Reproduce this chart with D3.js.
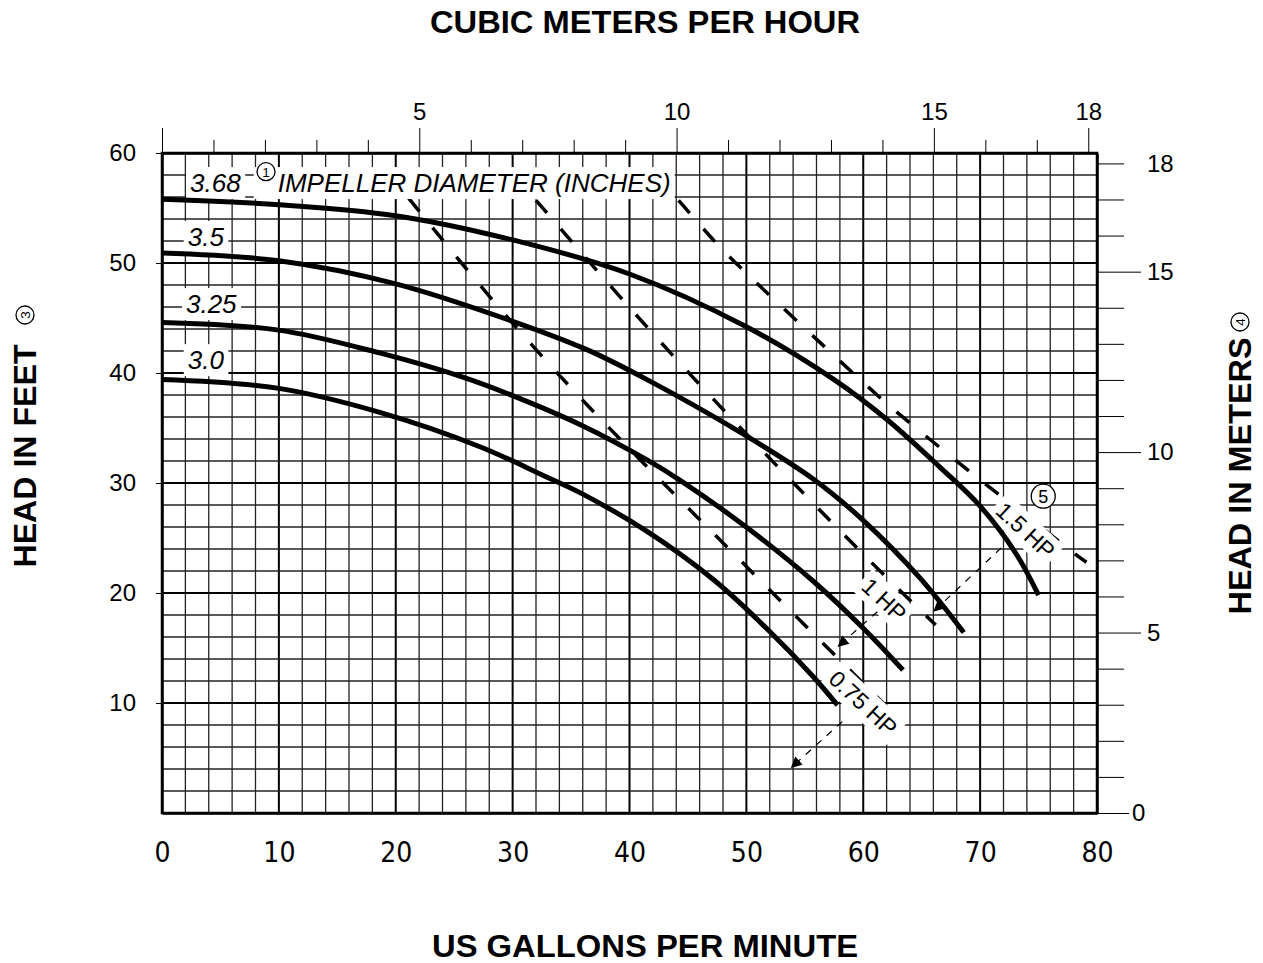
<!DOCTYPE html>
<html>
<head>
<meta charset="utf-8">
<script src="https://cdn.jsdelivr.net/npm/d3@7"></script>
<style>
  body { margin: 0; background: #fff; }
  svg { display: block; font-family: "Liberation Sans", Arial, sans-serif; }
</style>
</head>
<body>
<div id="chart"></div>
<script>

// pump curves: flow in US GPM, head in feet, one per impeller diameter
const sizeNames = ["3.68", "3.5", "3.25", "3.0"];
const curve368 = [[0, 55.8], [10, 55.3], [20, 54.3], [30, 52.1], [40, 49.0], [50, 44.2], [57.5, 39.4], [62, 35.8], [66.6, 31.4], [70, 27.9], [73, 23.7], [75.0, 19.8]];
const curve350 = [[0, 50.9], [10, 50.2], [20, 48.1], [30, 44.7], [36.4, 42.1], [41.5, 39.4], [49.5, 34.6], [55.8, 30.3], [60, 26.6], [64.9, 21.3], [68.6, 16.4]];
const curve325 = [[0, 44.6], [10, 43.9], [18.7, 41.8], [25.8, 39.6], [30.1, 37.9], [35.8, 35.3], [41.5, 32.1], [44.4, 30.2], [50.1, 25.9], [55.8, 21.0], [60, 16.8], [63.4, 13.0]];
const curve300 = [[0, 39.4], [10, 38.6], [18.7, 36.4], [27.2, 33.3], [33.0, 30.5], [35.8, 29.1], [41.5, 25.6], [47.2, 21.2], [52, 16.5], [55.8, 12.3], [57.8, 9.8]];
const sizeCurves = [curve368, curve350, curve325, curve300];

// motor horsepower limits
const hpNames = ["0.75 HP", "1 HP", "1.5 HP"];
const hp075 = [[21.1, 55.9], [27.5, 47.5], [33.9, 39.8], [40.7, 32.3], [47.5, 25.1], [54.3, 17.8], [61.7, 10.0]];
const hp100 = [[32.0, 55.7], [34.6, 52.5], [41.0, 44.7], [47.5, 37.2], [54.2, 29.8], [60.9, 22.5], [66.2, 17.1]];
const hp150 = [[44.2, 55.7], [46.8, 52.5], [48.9, 50.1], [60.6, 38.5], [63.1, 36.2], [70.3, 30.0], [72.9, 27.9], [75.8, 25.5], [78.4, 23.3], [79.1, 22.8]];
const hpLines = [hp075, hp100, hp150];

// tick values
const gpmTicks = [0, 10, 20, 30, 40, 50, 60, 70, 80];
const feetTicks = [10, 20, 30, 40, 50, 60];
const m3hLabels = [5, 10, 15, 18];
const meterLabels = [0, 5, 10, 15, 18];

// unit conversions
const GPM_PER_M3H = 4.4029;
const FT_PER_M = 3.28084;

// annotation anchors (in GPM / feet)
const sizeLabelAt = [[2.4, 57.3], [2.2, 52.4], [2.05, 46.3], [2.2, 41.2]];
const titleLabelAt = [9.9, 57.3];
const noteOneAt = [8.9, 58.3];
const hpLabelAt = [[60.0, 10.0], [61.8, 19.4], [73.9, 25.7]];
const noteFiveAt = [75.4, 28.8];
const leaders = [[[58.2, 8.3], [53.8, 4.1]], [[61.2, 18.3], [57.8, 15.1]], [[71.8, 24.1], [66.0, 18.3]]];

const svg = d3.select("#chart").append("svg")
    .attr("width", 1263)
    .attr("height", 963);

const x = d3.scaleLinear().domain([0, 80]).range([162, 1097]);
const y = d3.scaleLinear().domain([0, 60]).range([813, 153]);
const xm = d3.scaleLinear().domain([0, 80 / GPM_PER_M3H]).range([162, 1097]);
const ym = d3.scaleLinear().domain([0, 60 / FT_PER_M]).range([813, 153]);

svg.append("defs").append("marker")
    .attr("id", "tip")
    .attr("viewBox", "0 0 10 10")
    .attr("refX", 10).attr("refY", 5)
    .attr("markerUnits", "userSpaceOnUse")
    .attr("markerWidth", 15).attr("markerHeight", 11)
    .attr("orient", "auto")
    .append("path").attr("d", "M0,0L10,5L0,10Z").attr("fill", "#000");

// grid
const grid = svg.append("g");
grid.selectAll(".gx").data(d3.range(2, 80, 2)).join("line")
    .attr("x1", d => x(d)).attr("x2", d => x(d))
    .attr("y1", y(0)).attr("y2", y(60))
    .attr("stroke", d => d % 10 === 0 ? "#000" : "#222")
    .attr("stroke-width", d => d % 10 === 0 ? 2 : 1.3);
grid.selectAll(".gy").data(d3.range(2, 60, 2)).join("line")
    .attr("x1", x(0)).attr("x2", x(80))
    .attr("y1", d => y(d)).attr("y2", d => y(d))
    .attr("stroke", d => d % 10 === 0 ? "#000" : "#222")
    .attr("stroke-width", d => d % 10 === 0 ? 2 : 1.3);

svg.append("rect")
    .attr("x", x(0)).attr("y", y(60))
    .attr("width", x(80) - x(0)).attr("height", y(0) - y(60))
    .attr("fill", "none").attr("stroke", "#000").attr("stroke-width", 2.5);

// axes
const leftAxis = svg.append("g")
    .attr("transform", `translate(${x(0)},0)`)
    .call(d3.axisLeft(y).tickValues(feetTicks).tickSize(6).tickSizeOuter(0).tickPadding(20));
leftAxis.attr("font-size", 24).attr("font-family", "Liberation Sans, Arial, sans-serif");

const bottomAxis = svg.append("g")
    .attr("transform", `translate(0,${y(0)})`)
    .call(d3.axisBottom(x).tickValues(gpmTicks).tickSize(0).tickSizeOuter(0).tickPadding(29));
bottomAxis.attr("font-size", 28).attr("font-family", "Liberation Sans Narrow, DejaVu Sans Condensed, sans-serif");

const topAxis = svg.append("g")
    .attr("transform", `translate(0,${y(60)})`)
    .call(d3.axisTop(xm).tickValues(d3.range(0, 19)).tickSize(13).tickSizeOuter(0)
        .tickFormat(d => m3hLabels.includes(d) ? d : ""));
topAxis.attr("font-size", 24).attr("font-family", "Liberation Sans, Arial, sans-serif");
topAxis.selectAll(".tick line").filter(d => d % 5 === 0 || d === 18).attr("y2", -25);
topAxis.selectAll(".tick text").attr("y", -33);

const rightAxis = svg.append("g")
    .attr("transform", `translate(${x(80)},0)`)
    .call(d3.axisRight(ym).tickValues(d3.range(0, 19)).tickSize(27).tickSizeOuter(0)
        .tickFormat(d => meterLabels.includes(d) ? d : ""));
rightAxis.attr("font-size", 24).attr("font-family", "Liberation Sans, Arial, sans-serif");
rightAxis.selectAll(".tick line").attr("x2", d => d === 0 ? 32 : (d % 5 === 0 ? 44 : 27));
rightAxis.selectAll(".tick text").attr("x", d => d === 0 ? 35 : 50);
svg.selectAll(".domain").attr("stroke-width", 2.5);

// horsepower limit lines
const hpLine = d3.line().x(d => x(d[0])).y(d => y(d[1])).curve(d3.curveBasis);
svg.append("g").selectAll("path").data(hpLines).join("path")
    .attr("d", hpLine)
    .attr("fill", "none").attr("stroke", "#000")
    .attr("stroke-width", 3.5).attr("stroke-dasharray", "17 21");

function addBox(text, pad) {
    const b = text.node().getBBox();
    d3.select(text.node().parentNode).insert("rect", () => text.node())
        .attr("x", b.x - pad[3]).attr("y", b.y - pad[0])
        .attr("width", b.width + pad[1] + pad[3]).attr("height", b.height + pad[0] + pad[2])
        .attr("fill", "#fff");
}

function circled(g, cx, cy, r, digit) {
    g.append("circle").attr("cx", cx).attr("cy", cy).attr("r", r)
        .attr("fill", "#fff").attr("stroke", "#000").attr("stroke-width", 1.3);
    g.append("text").attr("x", cx).attr("y", cy).attr("dy", "0.36em")
        .attr("text-anchor", "middle").attr("font-size", r * 1.5).text(digit);
}

// impeller labels
const labels = svg.append("g").attr("font-size", 26).attr("font-style", "italic");
sizeNames.forEach((name, i) => {
    const t = labels.append("text")
        .attr("x", x(sizeLabelAt[i][0])).attr("y", y(sizeLabelAt[i][1]))
        .attr("dy", "0.36em").text(name);
    addBox(t, [1, 4, 1, 4]);
});
const title = labels.append("text")
    .attr("x", x(titleLabelAt[0])).attr("y", y(titleLabelAt[1]))
    .attr("dy", "0.36em").text("IMPELLER DIAMETER (INCHES)");
addBox(title, [1, 4, 1, 24]);
circled(labels.append("g").attr("font-style", "normal"), x(noteOneAt[0]), y(noteOneAt[1]), 9, "1");

// horsepower labels
const hpLabels = svg.append("g").attr("font-size", 23);
hpNames.forEach((name, i) => {
    const g = hpLabels.append("g")
        .attr("transform", `translate(${x(hpLabelAt[i][0])},${y(hpLabelAt[i][1])}) rotate(43)`);
    const t = g.append("text").attr("text-anchor", "middle").attr("dy", "0.36em").text(name);
    addBox(t, [2, 4, 2, 4]);
});
circled(hpLabels.append("g"), x(noteFiveAt[0]), y(noteFiveAt[1]), 12, "5");

// impeller curves
const curveLine = d3.line().x(d => x(d[0])).y(d => y(d[1])).curve(d3.curveCatmullRom.alpha(0.5));
svg.append("g").selectAll("path").data(sizeCurves).join("path")
    .attr("d", curveLine)
    .attr("fill", "none").attr("stroke", "#000").attr("stroke-width", 5);

// leader arrows
svg.append("g").selectAll("line").data(leaders).join("line")
    .attr("x1", d => x(d[0][0])).attr("y1", d => y(d[0][1]))
    .attr("x2", d => x(d[1][0])).attr("y2", d => y(d[1][1]))
    .attr("stroke", "#000").attr("stroke-width", 1.2)
    .attr("stroke-dasharray", "7 7")
    .attr("marker-end", "url(#tip)");

// axis titles
svg.append("text")
    .attr("x", 645).attr("y", 33)
    .attr("text-anchor", "middle").attr("font-size", 31).attr("font-weight", "bold")
    .attr("textLength", 430).attr("lengthAdjust", "spacingAndGlyphs")
    .text("CUBIC METERS PER HOUR");

svg.append("text")
    .attr("x", 645).attr("y", 957)
    .attr("text-anchor", "middle").attr("font-size", 31).attr("font-weight", "bold")
    .attr("textLength", 426).attr("lengthAdjust", "spacingAndGlyphs")
    .text("US GALLONS PER MINUTE");

const leftTitle = svg.append("g").attr("transform", "translate(25,456) rotate(-90)");
leftTitle.append("text")
    .attr("text-anchor", "middle").attr("dy", "0.36em")
    .attr("font-size", 31).attr("font-weight", "bold")
    .attr("textLength", 223).attr("lengthAdjust", "spacingAndGlyphs")
    .text("HEAD IN FEET");
circled(leftTitle, 141, 0, 9, "3");

const rightTitle = svg.append("g").attr("transform", "translate(1240,476) rotate(-90)");
rightTitle.append("text")
    .attr("text-anchor", "middle").attr("dy", "0.36em")
    .attr("font-size", 31).attr("font-weight", "bold")
    .attr("textLength", 277).attr("lengthAdjust", "spacingAndGlyphs")
    .text("HEAD IN METERS");
circled(rightTitle, 154, 0, 9, "4");

</script>
</body>
</html>
